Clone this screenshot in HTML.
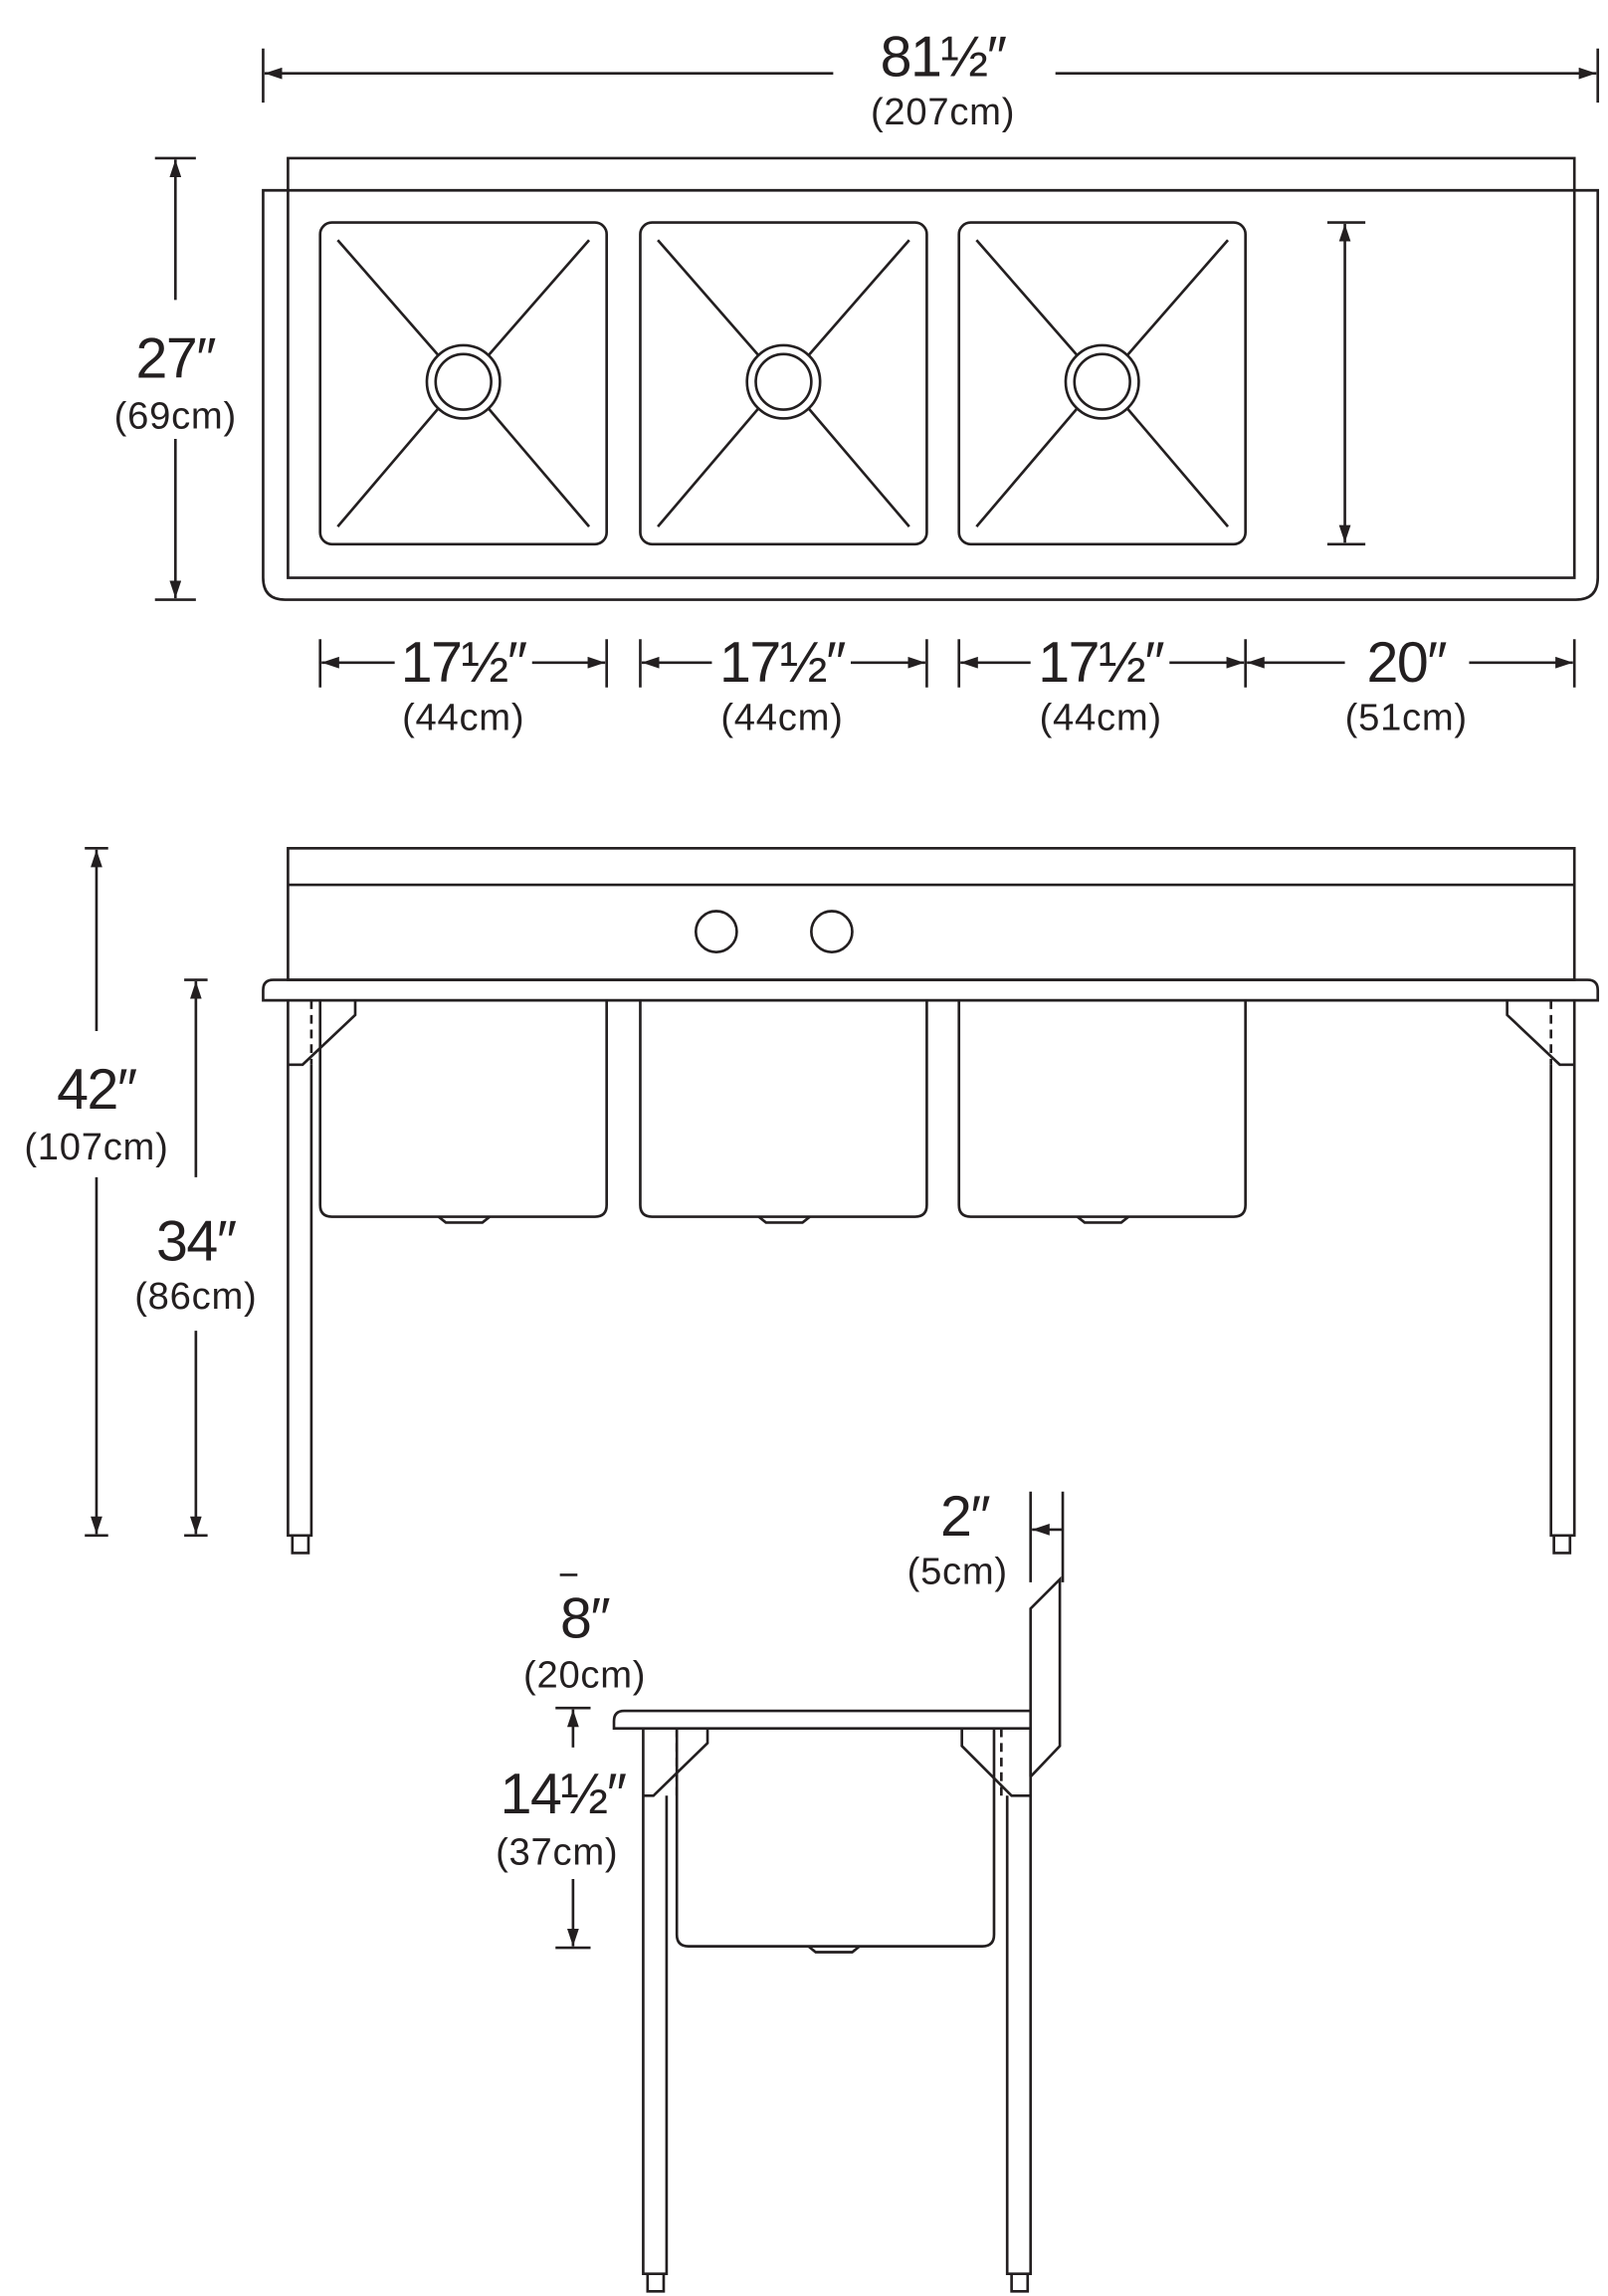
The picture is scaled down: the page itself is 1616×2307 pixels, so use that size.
<!DOCTYPE html>
<html><head><meta charset="utf-8"><style>
html,body{margin:0;padding:0;background:#fff}
svg{display:block}
text{font-family:"Liberation Sans",sans-serif;fill:#231f20;text-anchor:middle}
.b{font-size:39px;letter-spacing:-1px}
.s{font-size:26px;letter-spacing:0.5px}
</style></head><body>
<svg width="1616" height="2307" viewBox="0 0 1100 1570" xmlns="http://www.w3.org/2000/svg">
<defs>
<marker id="a" viewBox="0 0 12 8" refX="12" refY="4" markerWidth="12" markerHeight="8" markerUnits="userSpaceOnUse" orient="auto-start-reverse"><path d="M0,0 L12,4 L0,8z" fill="#231f20"/></marker>
</defs>
<g stroke="#231f20" stroke-width="1.8" fill="none">
<line x1="180" y1="33" x2="180" y2="70"/><line x1="1093" y1="33" x2="1093" y2="70"/>
<line x1="181" y1="50" x2="570" y2="50" marker-start="url(#a)"/>
<line x1="722" y1="50" x2="1092" y2="50" marker-end="url(#a)"/>
<line x1="106" y1="108" x2="134" y2="108"/><line x1="106" y1="410" x2="134" y2="410"/>
<line x1="120" y1="109" x2="120" y2="205" marker-start="url(#a)"/>
<line x1="120" y1="300" x2="120" y2="409" marker-end="url(#a)"/>
<path d="M197,130 L197,108 L1077,108 L1077,130"/>
<path d="M180,130 L1093,130 L1093,395 Q1093,410 1078,410 L195,410 Q180,410 180,395 Z"/>
<path d="M197,130 L197,395 L1077,395 L1077,130"/>
<rect x="219" y="152" width="196" height="220" rx="8"/>
<rect x="438" y="152" width="196" height="220" rx="8"/>
<rect x="656" y="152" width="196" height="220" rx="8"/>
<g id="d1">
<circle cx="317" cy="261" r="25"/><circle cx="317" cy="261" r="19"/>
<line x1="231" y1="164" x2="300" y2="243"/><line x1="403" y1="164" x2="334" y2="243"/>
<line x1="231" y1="360" x2="300" y2="279"/><line x1="403" y1="360" x2="334" y2="279"/>
</g>
<use href="#d1" x="219"/><use href="#d1" x="437"/>
<line x1="908" y1="152" x2="934" y2="152"/><line x1="908" y1="372" x2="934" y2="372"/>
<line x1="920" y1="153" x2="920" y2="371" marker-start="url(#a)" marker-end="url(#a)"/>
<line x1="219" y1="437" x2="219" y2="470"/><line x1="415" y1="437" x2="415" y2="470"/>
<line x1="438" y1="437" x2="438" y2="470"/><line x1="634" y1="437" x2="634" y2="470"/>
<line x1="656" y1="437" x2="656" y2="470"/><line x1="852" y1="437" x2="852" y2="470"/>
<line x1="1077" y1="437" x2="1077" y2="470"/>
<line x1="220" y1="453" x2="270" y2="453" marker-start="url(#a)"/><line x1="364" y1="453" x2="414" y2="453" marker-end="url(#a)"/>
<line x1="439" y1="453" x2="487" y2="453" marker-start="url(#a)"/><line x1="582" y1="453" x2="633" y2="453" marker-end="url(#a)"/>
<line x1="657" y1="453" x2="705" y2="453" marker-start="url(#a)"/><line x1="800" y1="453" x2="851" y2="453" marker-end="url(#a)"/>
<line x1="853" y1="453" x2="920" y2="453" marker-start="url(#a)"/><line x1="1005" y1="453" x2="1076" y2="453" marker-end="url(#a)"/>
<rect x="197" y="580" width="880" height="90"/>
<line x1="197" y1="605" x2="1077" y2="605"/>
<circle cx="490" cy="637" r="14"/><circle cx="569" cy="637" r="14"/>
<path d="M187,670 L1086,670 Q1093,670 1093,677 L1093,684 L180,684 L180,677 Q180,670 187,670Z"/>
<path d="M219,684 L219,824 Q219,832 227,832 L407,832 Q415,832 415,824 L415,684"/>
<path d="M438,684 L438,824 Q438,832 446,832 L626,832 Q634,832 634,824 L634,684"/>
<path d="M656,684 L656,824 Q656,832 664,832 L844,832 Q852,832 852,824 L852,684"/>
<path d="M300,832 L305,836 L330,836 L335,832 M519,832 L524,836 L549,836 L554,832 M737,832 L742,836 L767,836 L772,832"/>
<path d="M197,684 L197,1050 L213,1050 L213,728"/>
<path d="M200,1050 L200,1062 L211,1062 L211,1050"/>
<path d="M197,728 L207,728 L243,694 L243,684"/>
<path d="M1077,684 L1077,1050 L1061,1050 L1061,728"/>
<path d="M1063,1050 L1063,1062 L1074,1062 L1074,1050"/>
<path d="M1077,728 L1067,728 L1031,694 L1031,684"/>
<line x1="213" y1="684" x2="213" y2="728" stroke-dasharray="6,4"/>
<line x1="1061" y1="684" x2="1061" y2="728" stroke-dasharray="6,4"/>
<line x1="58" y1="580" x2="74" y2="580"/><line x1="58" y1="1050" x2="74" y2="1050"/>
<line x1="66" y1="581" x2="66" y2="705" marker-start="url(#a)"/>
<line x1="66" y1="805" x2="66" y2="1049" marker-end="url(#a)"/>
<line x1="126" y1="670" x2="142" y2="670"/><line x1="126" y1="1050" x2="142" y2="1050"/>
<line x1="134" y1="671" x2="134" y2="805" marker-start="url(#a)"/>
<line x1="134" y1="910" x2="134" y2="1049" marker-end="url(#a)"/>
<path d="M705,1170 L427,1170 Q420,1170 420,1177 L420,1182 L705,1182"/>
<path d="M705,1215 L705,1100 L725,1080 L725,1194 L705,1215"/>
<path d="M440,1182 L440,1555 L456,1555 L456,1228"/>
<path d="M443,1555 L443,1567 L454,1567 L454,1555"/>
<path d="M440,1228 L447,1228 L484,1192 L484,1182"/>
<path d="M705,1182 L705,1555 L689,1555 L689,1228"/>
<path d="M692,1555 L692,1567 L703,1567 L703,1555"/>
<path d="M705,1228 L692,1228 L658,1194 L658,1182"/>
<path d="M463,1182 L463,1323 Q463,1331 471,1331 L672,1331 Q680,1331 680,1323 L680,1182"/>
<path d="M553,1331 L558,1335 L583,1335 L588,1331"/>
<line x1="463" y1="1182" x2="463" y2="1230" stroke-dasharray="6,4"/>
<line x1="685" y1="1182" x2="685" y2="1230" stroke-dasharray="6,4"/>
<line x1="705" y1="1020" x2="705" y2="1082"/><line x1="727" y1="1020" x2="727" y2="1082"/>
<line x1="727" y1="1046" x2="706" y2="1046" marker-end="url(#a)"/>
<line x1="380" y1="1168" x2="404" y2="1168"/>
<line x1="380" y1="1332" x2="404" y2="1332"/>
<line x1="392" y1="1169" x2="392" y2="1195" marker-start="url(#a)"/>
<line x1="392" y1="1285" x2="392" y2="1331" marker-end="url(#a)"/>
<line x1="383" y1="1077" x2="395" y2="1077"/>
</g>
<text class="b" x="645" y="52">81½″</text><text class="s" x="645" y="85">(207cm)</text>
<text class="b" x="120" y="258">27″</text><text class="s" x="120" y="293">(69cm)</text>
<text class="b" x="317" y="466">17½″</text><text class="s" x="317" y="499">(44cm)</text>
<text class="b" x="535" y="466">17½″</text><text class="s" x="535" y="499">(44cm)</text>
<text class="b" x="753" y="466">17½″</text><text class="s" x="753" y="499">(44cm)</text>
<text class="b" x="962" y="466">20″</text><text class="s" x="962" y="499">(51cm)</text>
<text class="b" x="66" y="758">42″</text><text class="s" x="66" y="793">(107cm)</text>
<text class="b" x="134" y="862">34″</text><text class="s" x="134" y="895">(86cm)</text>
<text class="b" x="660" y="1050">2″</text><text class="s" x="655" y="1083">(5cm)</text>
<text class="b" x="400" y="1120">8″</text><text class="s" x="400" y="1154">(20cm)</text>
<text class="b" x="385" y="1240">14½″</text><text class="s" x="381" y="1275">(37cm)</text>
</svg>
</body></html>
